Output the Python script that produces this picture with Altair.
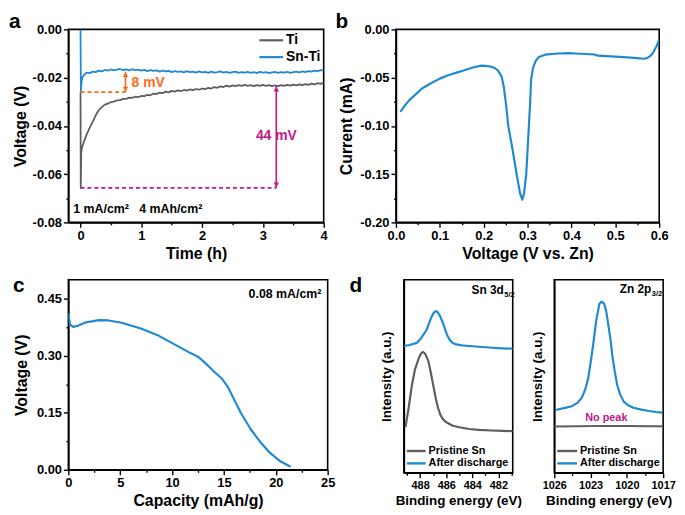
import altair as alt
import pandas as pd

FONT = "Liberation Sans"
BLUE = "#1f8ad0"
GRAY = "#5e5e5e"
ORANGE = "#ff6a1a"
MAGENTA = "#c2168b"
ONE = pd.DataFrame({"k": [0]})

# ---------------- panel a : voltage vs time ----------------
a_ti_head_t = [0.0, 0.004, 0.012, 0.03, 0.06, 0.10, 0.15]
a_ti_head_v = [-0.0260, -0.0657, -0.0506, -0.0485, -0.0462, -0.0436, -0.0408]
a_ti_body_v = [
    -0.0383, -0.0356, -0.0335, -0.0322, -0.0312, -0.0308, -0.0301, -0.0299, -0.0294, -0.0293,
    -0.0288, -0.0288, -0.0283, -0.0284, -0.0279, -0.0281, -0.0276, -0.0277, -0.0271, -0.0273,
    -0.0266, -0.0268, -0.0262, -0.0264, -0.0258, -0.0261, -0.0255, -0.0258, -0.0253, -0.0256,
    -0.0251, -0.0254, -0.0249, -0.0252, -0.0247, -0.0250, -0.0245, -0.0248, -0.0242, -0.0245,
    -0.0239, -0.0242, -0.0236, -0.0239, -0.0233, -0.0237, -0.0232, -0.0235, -0.0231, -0.0234,
    -0.0230, -0.0234, -0.0231, -0.0235, -0.0231, -0.0234, -0.0230, -0.0234, -0.0231, -0.0235,
    -0.0232, -0.0235, -0.0231, -0.0234, -0.0230, -0.0233, -0.0229, -0.0232, -0.0228, -0.0231,
    -0.0227, -0.0230, -0.0225, -0.0228, -0.0223, -0.0226, -0.0222]
a_sn_head_t = [0.0, 0.006, 0.015, 0.03, 0.06]
a_sn_head_v = [0.0, -0.0258, -0.0222, -0.0200, -0.0188]
a_sn_body_v = [
    -0.0179, -0.0181, -0.0175, -0.0177, -0.0171, -0.0174, -0.0168, -0.0171, -0.0166, -0.0170,
    -0.0167, -0.0164, -0.0169, -0.0166, -0.0170, -0.0165, -0.0169, -0.0167, -0.0171, -0.0168,
    -0.0173, -0.0169, -0.0172, -0.0170, -0.0175, -0.0171, -0.0174, -0.0172, -0.0177, -0.0173,
    -0.0176, -0.0174, -0.0178, -0.0173, -0.0177, -0.0175, -0.0179, -0.0174, -0.0178, -0.0176,
    -0.0180, -0.0175, -0.0179, -0.0177, -0.0174, -0.0179, -0.0176, -0.0180, -0.0177, -0.0175,
    -0.0180, -0.0177, -0.0179, -0.0176, -0.0180, -0.0177, -0.0181, -0.0176, -0.0179, -0.0177,
    -0.0181, -0.0178, -0.0176, -0.0180, -0.0177, -0.0179, -0.0176, -0.0180, -0.0177, -0.0175,
    -0.0178, -0.0174, -0.0177, -0.0173, -0.0175, -0.0171, -0.0173, -0.0169, -0.0170]
a_xticks = [0, 0.5, 1, 1.5, 2, 2.5, 3, 3.5, 4]
a_yticks = [-0.08, -0.07, -0.06, -0.05, -0.04, -0.03, -0.02, -0.01, 0.0]
a_legend = ["Ti", "Sn-Ti"]
a_orange_line = {"x": [0.0], "x2": [0.74], "y": [-0.026]}
a_orange_arrow = {"x": [0.74], "y": [-0.026], "y2": [-0.0175]}
a_magenta_line = {"x": [0.0], "x2": [3.22], "y": [-0.0657]}
a_magenta_arrow = {"x": [3.22], "y": [-0.0657], "y2": [-0.0235]}
a_texts = {"x": [0.84, 3.22, -0.12], "y": [-0.0222, -0.0440, -0.0746],
           "t": ["8 mV", "44 mV", "1 mA/cm\u00b2\u00a0\u00a0\u00a04 mAh/cm\u00b2"]}

# ---------------- panel b : LSV ----------------
b_voltage = [0.010, 0.020, 0.030, 0.045, 0.060, 0.082, 0.100, 0.119, 0.140, 0.156, 0.175, 0.193,
             0.205, 0.216, 0.225, 0.232, 0.238, 0.2415, 0.246, 0.251, 0.256, 0.266, 0.275, 0.283,
             0.288, 0.292, 0.297, 0.300, 0.303, 0.306, 0.308, 0.312, 0.318, 0.326, 0.340, 0.370,
             0.393, 0.420, 0.453, 0.460, 0.490, 0.527, 0.550, 0.564, 0.572, 0.580, 0.587, 0.594, 0.600]
b_current = [-0.0854, -0.0790, -0.0735, -0.0673, -0.0610, -0.0553, -0.0510, -0.0475, -0.0445,
             -0.0424, -0.0395, -0.0376, -0.0377, -0.0385, -0.0400, -0.0425, -0.0465, -0.0500,
             -0.0600, -0.0780, -0.1000, -0.1250, -0.1500, -0.1700, -0.1765, -0.1700, -0.1500,
             -0.1250, -0.1000, -0.0750, -0.0520, -0.0410, -0.0330, -0.0285, -0.0262, -0.0250,
             -0.0246, -0.0252, -0.0260, -0.0272, -0.0280, -0.0290, -0.0298, -0.0304, -0.0298,
             -0.0275, -0.0235, -0.0175, -0.0103]
b_xticks = [0.0, 0.05, 0.1, 0.15, 0.2, 0.25, 0.3, 0.35, 0.4, 0.45, 0.5, 0.55, 0.6]
b_yticks = [-0.2, -0.175, -0.15, -0.125, -0.1, -0.075, -0.05, -0.025, 0.0]

# ---------------- panel c : discharge curve ----------------
c_capacity = [0, 0.16, 0.47, 0.78, 1.71, 2.95, 3.88, 5.13, 6.99, 8.55, 10.1, 11.65, 12.1, 12.58,
              13.0, 13.5, 14.14, 14.76, 15.38, 16.0, 16.62, 17.55, 18.48, 19.42, 20.35, 21.43]
c_voltage = [0.412, 0.382, 0.376, 0.378, 0.388, 0.394, 0.393, 0.387, 0.372, 0.355, 0.332, 0.309,
             0.303, 0.296, 0.286, 0.273, 0.256, 0.241, 0.218, 0.184, 0.150, 0.108, 0.074, 0.045,
             0.024, 0.008]
c_xticks = [0, 2.5, 5, 7.5, 10, 12.5, 15, 17.5, 20, 22.5, 25]
c_yticks = [0.0, 0.075, 0.15, 0.225, 0.30, 0.375, 0.45]
c_note = {"x": [24.4], "y": [0.463], "t": ["0.08 mA/cm\u00b2"]}

# ---------------- panel d : XPS ----------------
d_legend = ["Pristine Sn", "After discharge"]
d1_pristine_e = [489.13, 488.88, 488.63, 488.40, 488.13, 487.95, 487.80, 487.62, 487.38, 487.20,
                 487.00, 486.80, 486.63, 486.45, 486.25, 486.00, 485.50, 485.00, 484.25, 483.50,
                 482.50, 481.70, 480.90]
d1_pristine_i = [0.236, 0.337, 0.455, 0.535, 0.589, 0.617, 0.626, 0.617, 0.581, 0.525, 0.455,
                 0.385, 0.337, 0.300, 0.278, 0.262, 0.244, 0.236, 0.227, 0.222, 0.219, 0.217, 0.216]
d1_after_e = [489.25, 488.80, 488.26, 487.90, 487.50, 487.30, 487.13, 486.95, 486.80, 486.65,
              486.50, 486.30, 486.12, 485.95, 485.75, 485.50, 485.25, 484.80, 484.25, 483.50,
              482.50, 481.70, 480.90]
d1_after_i = [0.657, 0.662, 0.673, 0.700, 0.741, 0.778, 0.808, 0.830, 0.838, 0.832, 0.816, 0.784,
              0.749, 0.717, 0.690, 0.673, 0.665, 0.660, 0.657, 0.653, 0.648, 0.645, 0.643]
d1_xticks = [489, 488, 487, 486, 485, 484, 483, 482, 481]
d2_pristine_e = [1026.0, 1024.0, 1022.0, 1020.0, 1018.0, 1017.0]
d2_pristine_i = [0.240, 0.241, 0.243, 0.242, 0.241, 0.241]
d2_after_e = [1025.90, 1025.20, 1024.54, 1024.10, 1023.74, 1023.45, 1023.20, 1023.00, 1022.80,
              1022.53, 1022.27, 1022.09, 1021.87, 1021.70, 1021.55, 1021.35, 1021.20, 1021.00,
              1020.80, 1020.55, 1020.27, 1019.90, 1019.47, 1018.80, 1018.15, 1017.60, 1017.08]
d2_after_i = [0.325, 0.335, 0.345, 0.362, 0.387, 0.430, 0.488, 0.570, 0.657, 0.791, 0.875, 0.887,
              0.875, 0.835, 0.774, 0.690, 0.606, 0.525, 0.455, 0.405, 0.370, 0.350, 0.337, 0.327,
              0.320, 0.315, 0.312]
d2_xticks = [1026, 1024.5, 1023, 1021.5, 1020, 1018.5, 1017]
d2_note = {"x": [1021.7], "y": [0.283], "t": ["No peak"]}

# ---------------- sizes ----------------
WA, HA = 258, 195
WB = 266
WC, HC = 262, 192
WD, HD = 110, 195


def mk_axis(title, values, minor, fmt, lsize, tsize, tpad):
    test = f"abs(round(datum.value / {minor})) % 2 == 1"
    return alt.Axis(
        title=title, values=values,
        labelExpr=f"({test}) ? '' : replace(format(datum.value, '{fmt}'), '\u2212', '-')",
        tickSize={"condition": {"test": test, "value": 2.5}, "value": 5},
        tickWidth=1.4, tickColor="black", domainColor="black", domainWidth=1.6,
        labelFont=FONT, labelFontSize=lsize, labelFontWeight="bold", labelColor="black",
        labelPadding=2, labelOverlap=False, labelFlush=False, labelBound=False,
        titleFont=FONT, titleFontSize=tsize, titleFontWeight="bold", titleColor="black",
        titlePadding=tpad, grid=False,
    )


def frame(d):
    df = pd.DataFrame(d)
    df["i"] = range(len(df))
    return df


def line(x, y, color, X, Y, width=2.0):
    return alt.Chart(frame({"x": x, "y": y})).mark_line(
        color=color, strokeWidth=width, clip=True, strokeJoin="round"
    ).encode(x=X, y=Y, order="i:Q")


def txt(text, x, y, size, color="black", align="left", baseline="alphabetic", weight="bold"):
    return alt.Chart(ONE).mark_text(
        text=text, font=FONT, fontSize=size, fontWeight=weight, color=color,
        align=align, baseline=baseline
    ).encode(x=alt.value(x), y=alt.value(y))


def letter(text, x, y):
    return txt(text, x, y, 21, baseline="top")


def legend(labels, colors, x0, length, y0, dy, size, sw):
    out = []
    for k, (lab, col) in enumerate(zip(labels, colors)):
        yy = y0 + k * dy
        out.append(alt.Chart(ONE).mark_rule(color=col, strokeWidth=sw).encode(
            x=alt.value(x0), x2=alt.value(x0 + length), y=alt.value(yy)))
        out.append(txt(lab, x0 + length + 3, yy, size, baseline="middle"))
    return out


def data_text(d, X, Y, size, color, align):
    return alt.Chart(frame(d)).mark_text(
        font=FONT, fontSize=size, fontWeight="bold", color=color, align=align, baseline="middle"
    ).encode(x=X, y=Y, text="t:N")


def arrow(d, X, Y, color):
    df = frame(d)
    seg = alt.Chart(df).mark_rule(color=color, strokeWidth=1.6).encode(x=X, y=Y, y2="y2:Q")
    top = alt.Chart(frame({"x": d["x"], "y": d["y2"]})).mark_point(
        shape="triangle-up", filled=True, size=30, color=color, opacity=1, yOffset=3
    ).encode(x=X, y=Y)
    bot = alt.Chart(df).mark_point(
        shape="triangle-down", filled=True, size=30, color=color, opacity=1, yOffset=-3
    ).encode(x=X, y=Y)
    return [seg, top, bot]


def dashed(d, X, Y, color):
    return alt.Chart(frame(d)).mark_rule(color=color, strokeWidth=1.6, strokeDash=[4, 3]).encode(
        x=X, x2="x2:Q", y=Y)


# ---------------- panel a ----------------
XA = alt.X("x:Q", scale=alt.Scale(domain=[-0.2, 4], nice=False, zero=False),
           axis=mk_axis("Time (h)", a_xticks, 0.5, "d", 13, 16, 3))
YA = alt.Y("y:Q", scale=alt.Scale(domain=[-0.08, 0], nice=False, zero=False),
           axis=mk_axis("Voltage (V)", a_yticks, 0.01, ".2f", 13, 16, 4))
a_ti_t = a_ti_head_t + [round(0.2 + 0.05 * k, 2) for k in range(len(a_ti_body_v))]
a_sn_t = a_sn_head_t + [round(0.1 + 0.05 * k, 2) for k in range(len(a_sn_body_v))]
panel_a = alt.layer(
    line(a_ti_t, a_ti_head_v + a_ti_body_v, GRAY, XA, YA, 1.8),
    line(a_sn_t, a_sn_head_v + a_sn_body_v, BLUE, XA, YA, 1.8),
    dashed(a_orange_line, XA, YA, ORANGE),
    *arrow(a_orange_arrow, XA, YA, ORANGE),
    dashed(a_magenta_line, XA, YA, MAGENTA),
    *arrow(a_magenta_arrow, XA, YA, MAGENTA),
    data_text({k: [v[0]] for k, v in a_texts.items()}, XA, YA, 14, ORANGE, "left"),
    data_text({k: [v[1]] for k, v in a_texts.items()}, XA, YA, 14, MAGENTA, "center"),
    data_text({k: [v[2]] for k, v in a_texts.items()}, XA, YA, 12.5, "black", "left"),
    *legend(a_legend, [GRAY, BLUE], WA - 65, 24, 11, 17, 14, 2.2),
    letter("a", -60, -18),
).properties(width=WA, height=HA)

# ---------------- panel b ----------------
XB = alt.X("x:Q", scale=alt.Scale(domain=[0, 0.6], nice=False, zero=False),
           axis=mk_axis("Voltage (V vs. Zn)", b_xticks, 0.05, ".1f", 13, 16, 3))
YB = alt.Y("y:Q", scale=alt.Scale(domain=[-0.2, 0], nice=False, zero=False),
           axis=mk_axis("Current (mA)", b_yticks, 0.025, ".2f", 13, 16, 5))
panel_b = alt.layer(
    line(b_voltage, b_current, BLUE, XB, YB, 2.2),
    letter("b", -61, -18),
).properties(width=WB, height=HA)

# ---------------- panel c ----------------
XC = alt.X("x:Q", scale=alt.Scale(domain=[0, 25], nice=False, zero=False),
           axis=mk_axis("Capacity (mAh/g)", c_xticks, 2.5, "d", 13, 16, 3))
YC = alt.Y("y:Q", scale=alt.Scale(domain=[0, 0.5], nice=False, zero=False),
           axis=mk_axis("Voltage (V)", c_yticks, 0.075, ".2f", 13, 16, 7))
panel_c = alt.layer(
    line(c_capacity, c_voltage, BLUE, XC, YC, 2.2),
    data_text(c_note, XC, YC, 12.5, "black", "right"),
    letter("c", -56, -5),
).properties(width=WC, height=HC)

# ---------------- panel d ----------------
YD = alt.Y("y:Q", scale=alt.Scale(domain=[0, 1], nice=False, zero=False),
           axis=alt.Axis(title="Intensity (a.u.)", ticks=False, labels=False, grid=False,
                         domainColor="black", domainWidth=1.6, titleFont=FONT, titleFontSize=13.5,
                         titleFontWeight="bold", titleColor="black", titlePadding=10))
XD1 = alt.X("x:Q", scale=alt.Scale(domain=[489.25, 480.9], nice=False, zero=False),
            axis=mk_axis("Binding energy (eV)", d1_xticks, 1, "d", 11, 13.5, 3))
XD2 = alt.X("x:Q", scale=alt.Scale(domain=[1026, 1017], nice=False, zero=False),
            axis=mk_axis("Binding energy (eV)", d2_xticks, 1.5, "d", 11, 13.5, 3))
panel_d1 = alt.layer(
    line(d1_pristine_e, d1_pristine_i, GRAY, XD1, YD, 2.2),
    line(d1_after_e, d1_after_i, BLUE, XD1, YD, 2.2),
    txt("Sn 3d", WD - 9, 14, 12, align="right"),
    txt("5/2", WD - 8.5, 17, 7.5),
    *legend(d_legend, [GRAY, BLUE], 3, 19, HD - 22, 12.5, 11, 2.4),
    letter("d", -55, -5),
).properties(width=WD, height=HD)
panel_d2 = alt.layer(
    line(d2_pristine_e, d2_pristine_i, GRAY, XD2, YD, 2.0),
    line(d2_after_e, d2_after_i, BLUE, XD2, YD, 2.2),
    data_text(d2_note, XD2, YD, 11, MAGENTA, "center"),
    txt("Zn 2p", WD - 12, 13, 12, align="right"),
    txt("3/2", WD - 11.5, 16, 7.5),
    *legend(d_legend, [GRAY, BLUE], 3, 20, HD - 22, 12.5, 11, 2.4),
).properties(width=WD, height=HD)

row1 = alt.hconcat(panel_a, panel_b, spacing=73, bounds="flush")
dgroup = alt.hconcat(panel_d1, panel_d2, spacing=42, bounds="flush")
row2 = alt.hconcat(panel_c, dgroup, spacing=12)
chart = alt.vconcat(row1, row2, spacing=12).properties(
    padding=0, background="white"
).configure_view(stroke="black", strokeWidth=1.6)

chart.save("out.html", embed_options={"renderer": "svg", "actions": False})
